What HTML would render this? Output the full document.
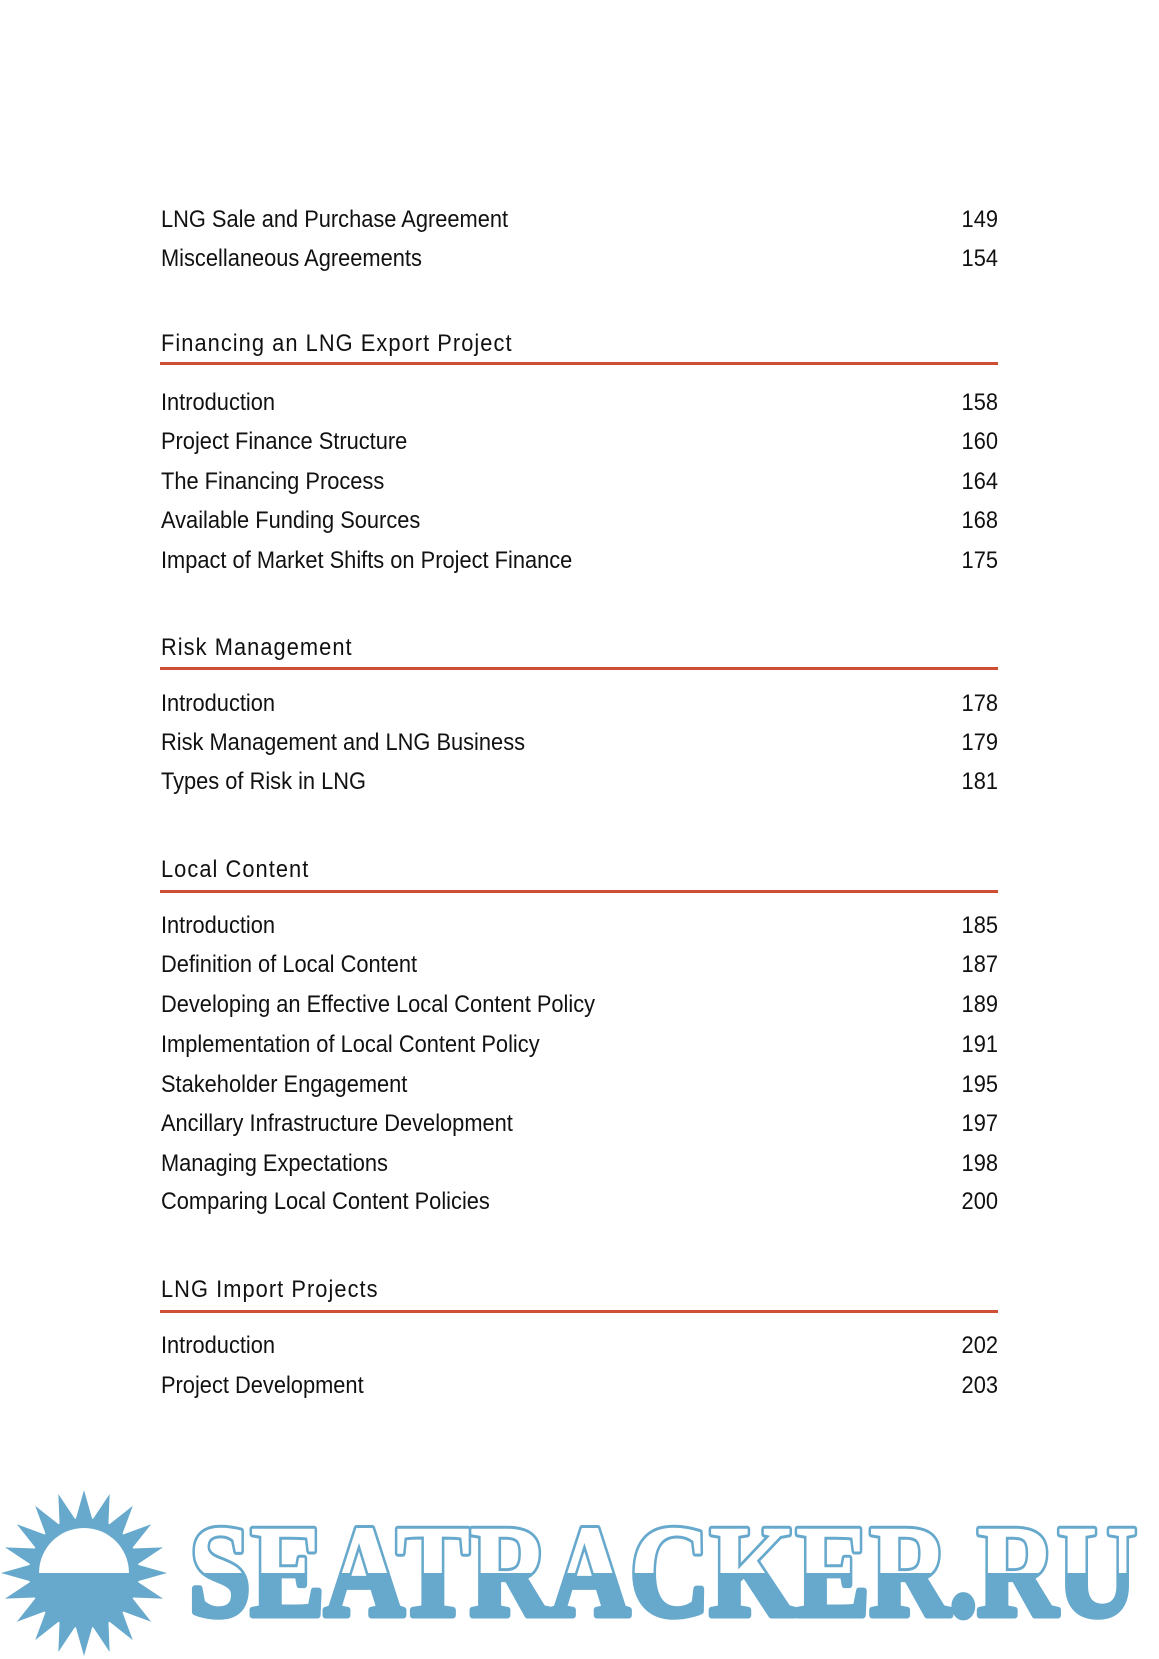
<!DOCTYPE html>
<html>
<head>
<meta charset="utf-8">
<style>
  html, body { margin:0; padding:0; background:#ffffff; }
  body { width:1159px; height:1659px; overflow:hidden; }
  svg { display:block; }
  .t { font-family:"Liberation Sans", Arial, sans-serif; font-size:24px; fill:#111111; }
  .h { letter-spacing:1.15px; }
  .n { text-anchor:end; }
</style>
</head>
<body>
<svg width="1159" height="1659" viewBox="0 0 1159 1659" xmlns="http://www.w3.org/2000/svg">
  <rect x="0" y="0" width="1159" height="1659" fill="#ffffff"/>

  <!-- red rules -->
  <rect x="160" y="362" width="838" height="3" fill="#cf4f35"/>
  <rect x="160" y="667" width="838" height="3" fill="#cf4f35"/>
  <rect x="160" y="890" width="838" height="3" fill="#cf4f35"/>
  <rect x="160" y="1310" width="838" height="3" fill="#cf4f35"/>

  <g transform="scale(0.91,1)">
    <text class="t" x="176.9" y="227">LNG Sale and Purchase Agreement</text>
    <text class="t n" x="1096.7" y="227">149</text>
    <text class="t" x="176.9" y="266">Miscellaneous Agreements</text>
    <text class="t n" x="1096.7" y="266">154</text>

    <text class="t h" x="176.9" y="351">Financing an LNG Export Project</text>

    <text class="t" x="176.9" y="410">Introduction</text>
    <text class="t n" x="1096.7" y="410">158</text>
    <text class="t" x="176.9" y="449">Project Finance Structure</text>
    <text class="t n" x="1096.7" y="449">160</text>
    <text class="t" x="176.9" y="489">The Financing Process</text>
    <text class="t n" x="1096.7" y="489">164</text>
    <text class="t" x="176.9" y="528">Available Funding Sources</text>
    <text class="t n" x="1096.7" y="528">168</text>
    <text class="t" x="176.9" y="568">Impact of Market Shifts on Project Finance</text>
    <text class="t n" x="1096.7" y="568">175</text>

    <text class="t h" x="176.9" y="655">Risk Management</text>

    <text class="t" x="176.9" y="711">Introduction</text>
    <text class="t n" x="1096.7" y="711">178</text>
    <text class="t" x="176.9" y="750">Risk Management and LNG Business</text>
    <text class="t n" x="1096.7" y="750">179</text>
    <text class="t" x="176.9" y="789">Types of Risk in LNG</text>
    <text class="t n" x="1096.7" y="789">181</text>

    <text class="t h" x="176.9" y="877">Local Content</text>

    <text class="t" x="176.9" y="933">Introduction</text>
    <text class="t n" x="1096.7" y="933">185</text>
    <text class="t" x="176.9" y="972">Definition of Local Content</text>
    <text class="t n" x="1096.7" y="972">187</text>
    <text class="t" x="176.9" y="1012">Developing an Effective Local Content Policy</text>
    <text class="t n" x="1096.7" y="1012">189</text>
    <text class="t" x="176.9" y="1052">Implementation of Local Content Policy</text>
    <text class="t n" x="1096.7" y="1052">191</text>
    <text class="t" x="176.9" y="1092">Stakeholder Engagement</text>
    <text class="t n" x="1096.7" y="1092">195</text>
    <text class="t" x="176.9" y="1131">Ancillary Infrastructure Development</text>
    <text class="t n" x="1096.7" y="1131">197</text>
    <text class="t" x="176.9" y="1171">Managing Expectations</text>
    <text class="t n" x="1096.7" y="1171">198</text>
    <text class="t" x="176.9" y="1209">Comparing Local Content Policies</text>
    <text class="t n" x="1096.7" y="1209">200</text>

    <text class="t h" x="176.9" y="1297">LNG Import Projects</text>

    <text class="t" x="176.9" y="1353">Introduction</text>
    <text class="t n" x="1096.7" y="1353">202</text>
    <text class="t" x="176.9" y="1393">Project Development</text>
    <text class="t n" x="1096.7" y="1393">203</text>
  </g>

  <defs>
    <clipPath id="topHalf">
      <rect x="0" y="1400" width="1159" height="173"/>
    </clipPath>
  </defs>

  <!-- Logo: sun -->
  <g fill="#67a9cc">
    <circle cx="84" cy="1573" r="55"/>
    <g transform="translate(84,1573)">
      <polygon points="-9,-51 0,-83 9,-51" transform="rotate(0)"/>
      <polygon points="-9,-51 0,-83 9,-51" transform="rotate(18)"/>
      <polygon points="-9,-51 0,-83 9,-51" transform="rotate(36)"/>
      <polygon points="-9,-51 0,-83 9,-51" transform="rotate(54)"/>
      <polygon points="-9,-51 0,-83 9,-51" transform="rotate(72)"/>
      <polygon points="-9,-51 0,-83 9,-51" transform="rotate(90)"/>
      <polygon points="-9,-51 0,-83 9,-51" transform="rotate(108)"/>
      <polygon points="-9,-51 0,-83 9,-51" transform="rotate(126)"/>
      <polygon points="-9,-51 0,-83 9,-51" transform="rotate(144)"/>
      <polygon points="-9,-51 0,-83 9,-51" transform="rotate(162)"/>
      <polygon points="-9,-51 0,-83 9,-51" transform="rotate(180)"/>
      <polygon points="-9,-51 0,-83 9,-51" transform="rotate(198)"/>
      <polygon points="-9,-51 0,-83 9,-51" transform="rotate(216)"/>
      <polygon points="-9,-51 0,-83 9,-51" transform="rotate(234)"/>
      <polygon points="-9,-51 0,-83 9,-51" transform="rotate(252)"/>
      <polygon points="-9,-51 0,-83 9,-51" transform="rotate(270)"/>
      <polygon points="-9,-51 0,-83 9,-51" transform="rotate(288)"/>
      <polygon points="-9,-51 0,-83 9,-51" transform="rotate(306)"/>
      <polygon points="-9,-51 0,-83 9,-51" transform="rotate(324)"/>
      <polygon points="-9,-51 0,-83 9,-51" transform="rotate(342)"/>
    </g>
  </g>
  <path d="M39,1573 A45,45 0 0 1 129,1573 Z" fill="#ffffff"/>

  <!-- Logo text: heavy blue layer, then white interior on top half -->
  <text x="189" y="1615" textLength="948" lengthAdjust="spacingAndGlyphs"
        font-family="'Liberation Serif', 'DejaVu Serif', serif" font-weight="bold" font-size="131"
        fill="#67a9cc" stroke="#67a9cc" stroke-width="7" stroke-linejoin="round">SEATRACKER.RU</text>
  <text x="189" y="1615" textLength="948" lengthAdjust="spacingAndGlyphs" clip-path="url(#topHalf)"
        font-family="'Liberation Serif', 'DejaVu Serif', serif" font-weight="bold" font-size="131"
        fill="#ffffff" stroke="#ffffff" stroke-width="1" stroke-linejoin="round">SEATRACKER.RU</text>
</svg>
</body>
</html>
